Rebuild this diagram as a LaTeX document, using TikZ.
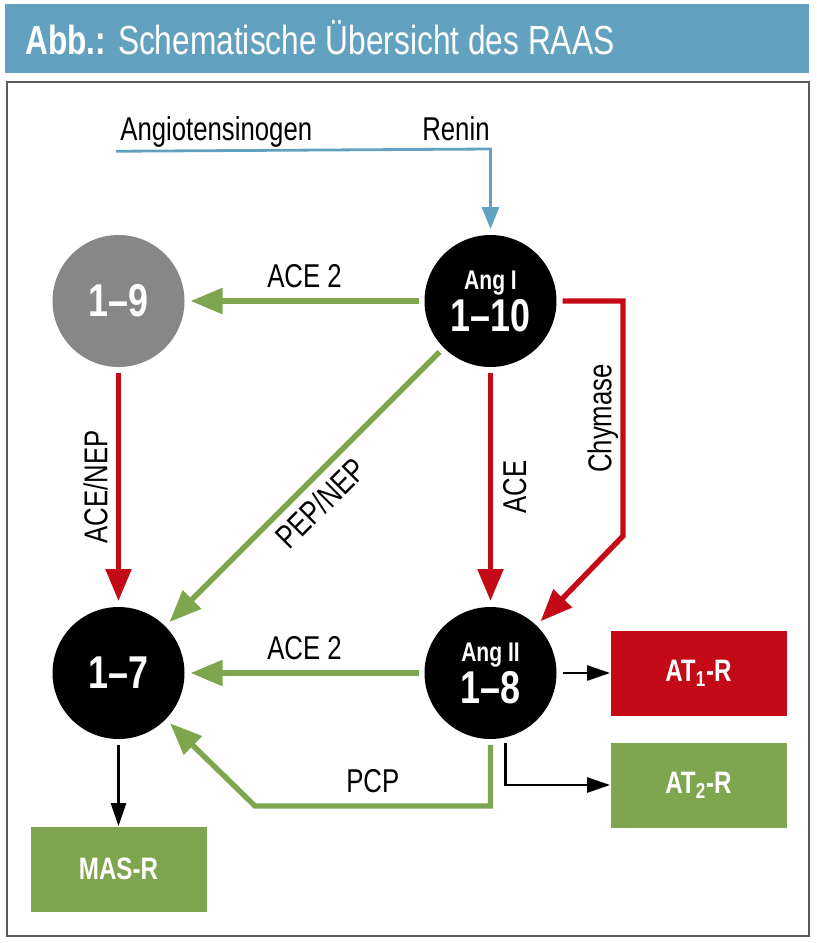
\documentclass[tikz,border=0pt]{standalone}
\usepackage{fontspec}
\setmainfont[FakeStretch=0.78]{Liberation Sans}
\usepackage{tikz}
\usetikzlibrary{arrows.meta,positioning}

\definecolor{raasblue}{HTML}{62A1BF}
\definecolor{raasgreen}{HTML}{7EA64E}
\definecolor{raasred}{HTML}{C50A17}
\definecolor{raasgray}{HTML}{878787}

\begin{document}
\begin{tikzpicture}[x=0.5pt,y=-0.5pt,node distance=186pt,
    vertex/.style={circle,draw=none,minimum size=66pt,inner sep=0pt,outer sep=3pt,text=white,font=\bfseries\fontsize{23}{22}\selectfont},
    receptor/.style={rectangle,minimum width=88pt,minimum height=42.5pt,inner sep=0pt,text=white,font=\bfseries\fontsize{15.5}{16}\selectfont},
    enzyme/.style={font=\fontsize{16.5}{18}\selectfont,inner sep=2pt},
    greenline/.style={draw=raasgreen,line width=2.7pt,-{Triangle[length=16pt,width=12.5pt]}},
    redline/.style={draw=raasred,line width=2.7pt,-{Triangle[length=16pt,width=12.5pt]}},
    blueline/.style={draw=raasblue,line width=1.4pt,-{Triangle[length=11pt,width=8.5pt]}},
    blackline/.style={draw=black,line width=1.3pt,-{Triangle[length=11.5pt,width=7.5pt]}},
    boxframe/.style={draw=black!65,line width=0.7pt}]
    \useasboundingbox (0,0) rectangle (817,943);
    \fill[raasblue] (5,4) rectangle (809,73);
    \node[anchor=base west,text=white,inner sep=0pt,font=\fontsize{20.3}{22}\selectfont] (title) at (25,54) {\textbf{Abb.:} Schematische Übersicht des RAAS};
    \draw[boxframe] (7,82) rectangle (809,936);

    \node[vertex] (angI) [fill=black,align=center] at (490.5,301) {{\fontsize{13.5}{14}\selectfont Ang I}\\[-1pt]1--10};
    \node[vertex] (n19) [fill=raasgray,left of=angI] {1--9};
    \node[vertex] (n17) [fill=black,below of=n19] {1--7};
    \node[vertex] (angII) [fill=black,align=center,right of=n17] {{\fontsize{13.5}{14}\selectfont Ang II}\\[-1pt]1--8};
    \node[receptor] (at1) [fill=raasred,right of=angII,node distance=104pt] {AT\textsubscript{1}-R};
    \node[receptor] (at2) [fill=raasgreen,below of=at1,node distance=56pt] {AT\textsubscript{2}-R};
    \node[receptor] (mas) [fill=raasgreen,below of=n17,node distance=98pt] {MAS-R};

    \node[enzyme] (agt) [anchor=base west] at (116,140) {Angiotensinogen};
    \node[enzyme] (renin) [anchor=base east] at (494,140) {Renin};
    \coordinate (bend) at (490.5,149);
    \draw[blueline] (agt.south west) -- (bend) -- (angI);

    \coordinate (chyA) at (623,301);
    \coordinate (chyB) at (623,536);
    \draw[redline] (angI) -- (chyA) -- node[enzyme,rotate=90,anchor=south,inner sep=1pt] {Chymase} (chyB) -- (angII);

    \coordinate (pcpA) at (490.5,806);
    \coordinate (pcpB) at (255,806);
    \draw[greenline] (angII) -- (pcpA) -- node[enzyme,above=3pt] {PCP} (pcpB) -- (n17);

    \draw[blackline] (angII.-78) |- (at2);

    \path
    (angI) edge[greenline] node[enzyme,above=3pt] {ACE 2} (n19)
           edge[greenline] node[enzyme,rotate=45,anchor=north,inner sep=4pt] {PEP/NEP} (n17)
           edge[redline] node[enzyme,rotate=90,anchor=north,inner sep=5pt] {ACE} (angII)
    (n19)  edge[redline] node[enzyme,rotate=90,anchor=south,inner sep=4pt] {ACE/NEP} (n17)
    (angII) edge[greenline] node[enzyme,above=3pt] {ACE 2} (n17)
            edge[blackline] (at1)
    (n17)  edge[blackline] (mas);
\end{tikzpicture}
\end{document}
